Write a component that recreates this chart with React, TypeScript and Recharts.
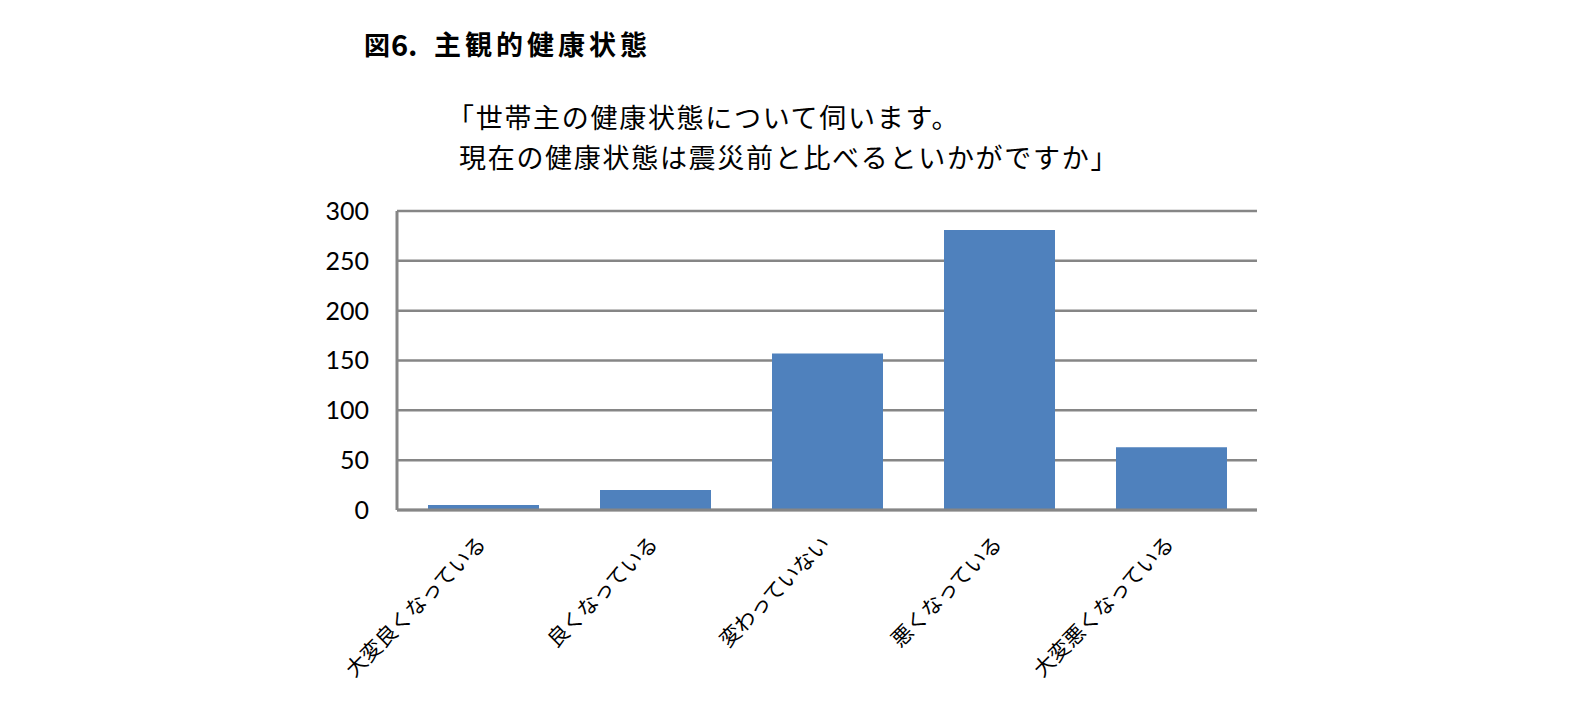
import { BarChart, Bar, XAxis, YAxis, CartesianGrid } from 'recharts'

const categories = ['大変良くなっている', '良くなっている', '変わっていない', '悪くなっている', '大変悪くなっている']
const counts = [5, 20, 157, 281, 63]
const yTicks = [0, 50, 100, 150, 200, 250, 300]

const titleMark = '図'
const titleNumber = '6.'
const titleText = '主観的健康状態'
const questionLines = ['「世帯主の健康状態について伺います。', '現在の健康状態は震災前と比べるといかがですか」']

const data = categories.map((name, i) => ({ name, count: counts[i] }))

const JP = '"Noto Sans CJK JP", "Noto Sans", sans-serif'
const GRID = '#868686'

function SlantTick(props: any) {
  const { x, y, payload } = props
  const tx = x - 2
  const ty = y + 21
  return (
    <text
      x={tx}
      y={ty}
      transform={`rotate(-45 ${tx} ${ty})`}
      textAnchor="end"
      dominantBaseline="central"
      fontSize={21}
      fontFamily={JP}
      fill="#000"
    >
      {payload.value}
    </text>
  )
}

export default function App() {
  return (
    <div style={{ position: 'relative', width: 1589, height: 715, background: '#fff' }}>
      <style>{'body{margin:0;background:#fff}'}</style>
      <BarChart width={1589} height={715} data={data} margin={{ top: 211, right: 332, bottom: 5, left: 317 }}>
        <CartesianGrid vertical={false} stroke={GRID} strokeWidth={2.5} />
        <XAxis
          dataKey="name"
          height={200}
          interval={0}
          tickLine={false}
          axisLine={{ stroke: GRID, strokeWidth: 3 }}
          tick={<SlantTick />}
        />
        <YAxis
          width={80}
          domain={[0, 300]}
          ticks={yTicks}
          tickLine={false}
          tickMargin={22}
          axisLine={{ stroke: GRID, strokeWidth: 3 }}
          tick={{ fontSize: 25, fill: '#000', fontFamily: 'Lato, "Open Sans", sans-serif' }}
        />
        <Bar dataKey="count" fill="#4F81BD" barSize={111} isAnimationActive={false} />
      </BarChart>
      <svg width={1589} height={715} style={{ position: 'absolute', left: 0, top: 0, pointerEvents: 'none' }}>
        <g fontFamily={JP} fontWeight={700} fill="#000">
          <text x={364} y={43} dominantBaseline="central" fontSize={26}>
            {titleMark}
          </text>
          <text x={391} y={43} dominantBaseline="central" fontSize={29}>
            {titleNumber}
          </text>
          <text x={434} y={43} dominantBaseline="central" fontSize={27} letterSpacing={4}>
            {titleText}
          </text>
        </g>
        <text x={447} y={116} dominantBaseline="central" fontSize={27} letterSpacing={1.7} fontFamily={JP} fill="#000">
          {questionLines[0]}
        </text>
        <text x={459} y={156} dominantBaseline="central" fontSize={27} letterSpacing={1.7} fontFamily={JP} fill="#000">
          {questionLines[1]}
        </text>
      </svg>
    </div>
  )
}
